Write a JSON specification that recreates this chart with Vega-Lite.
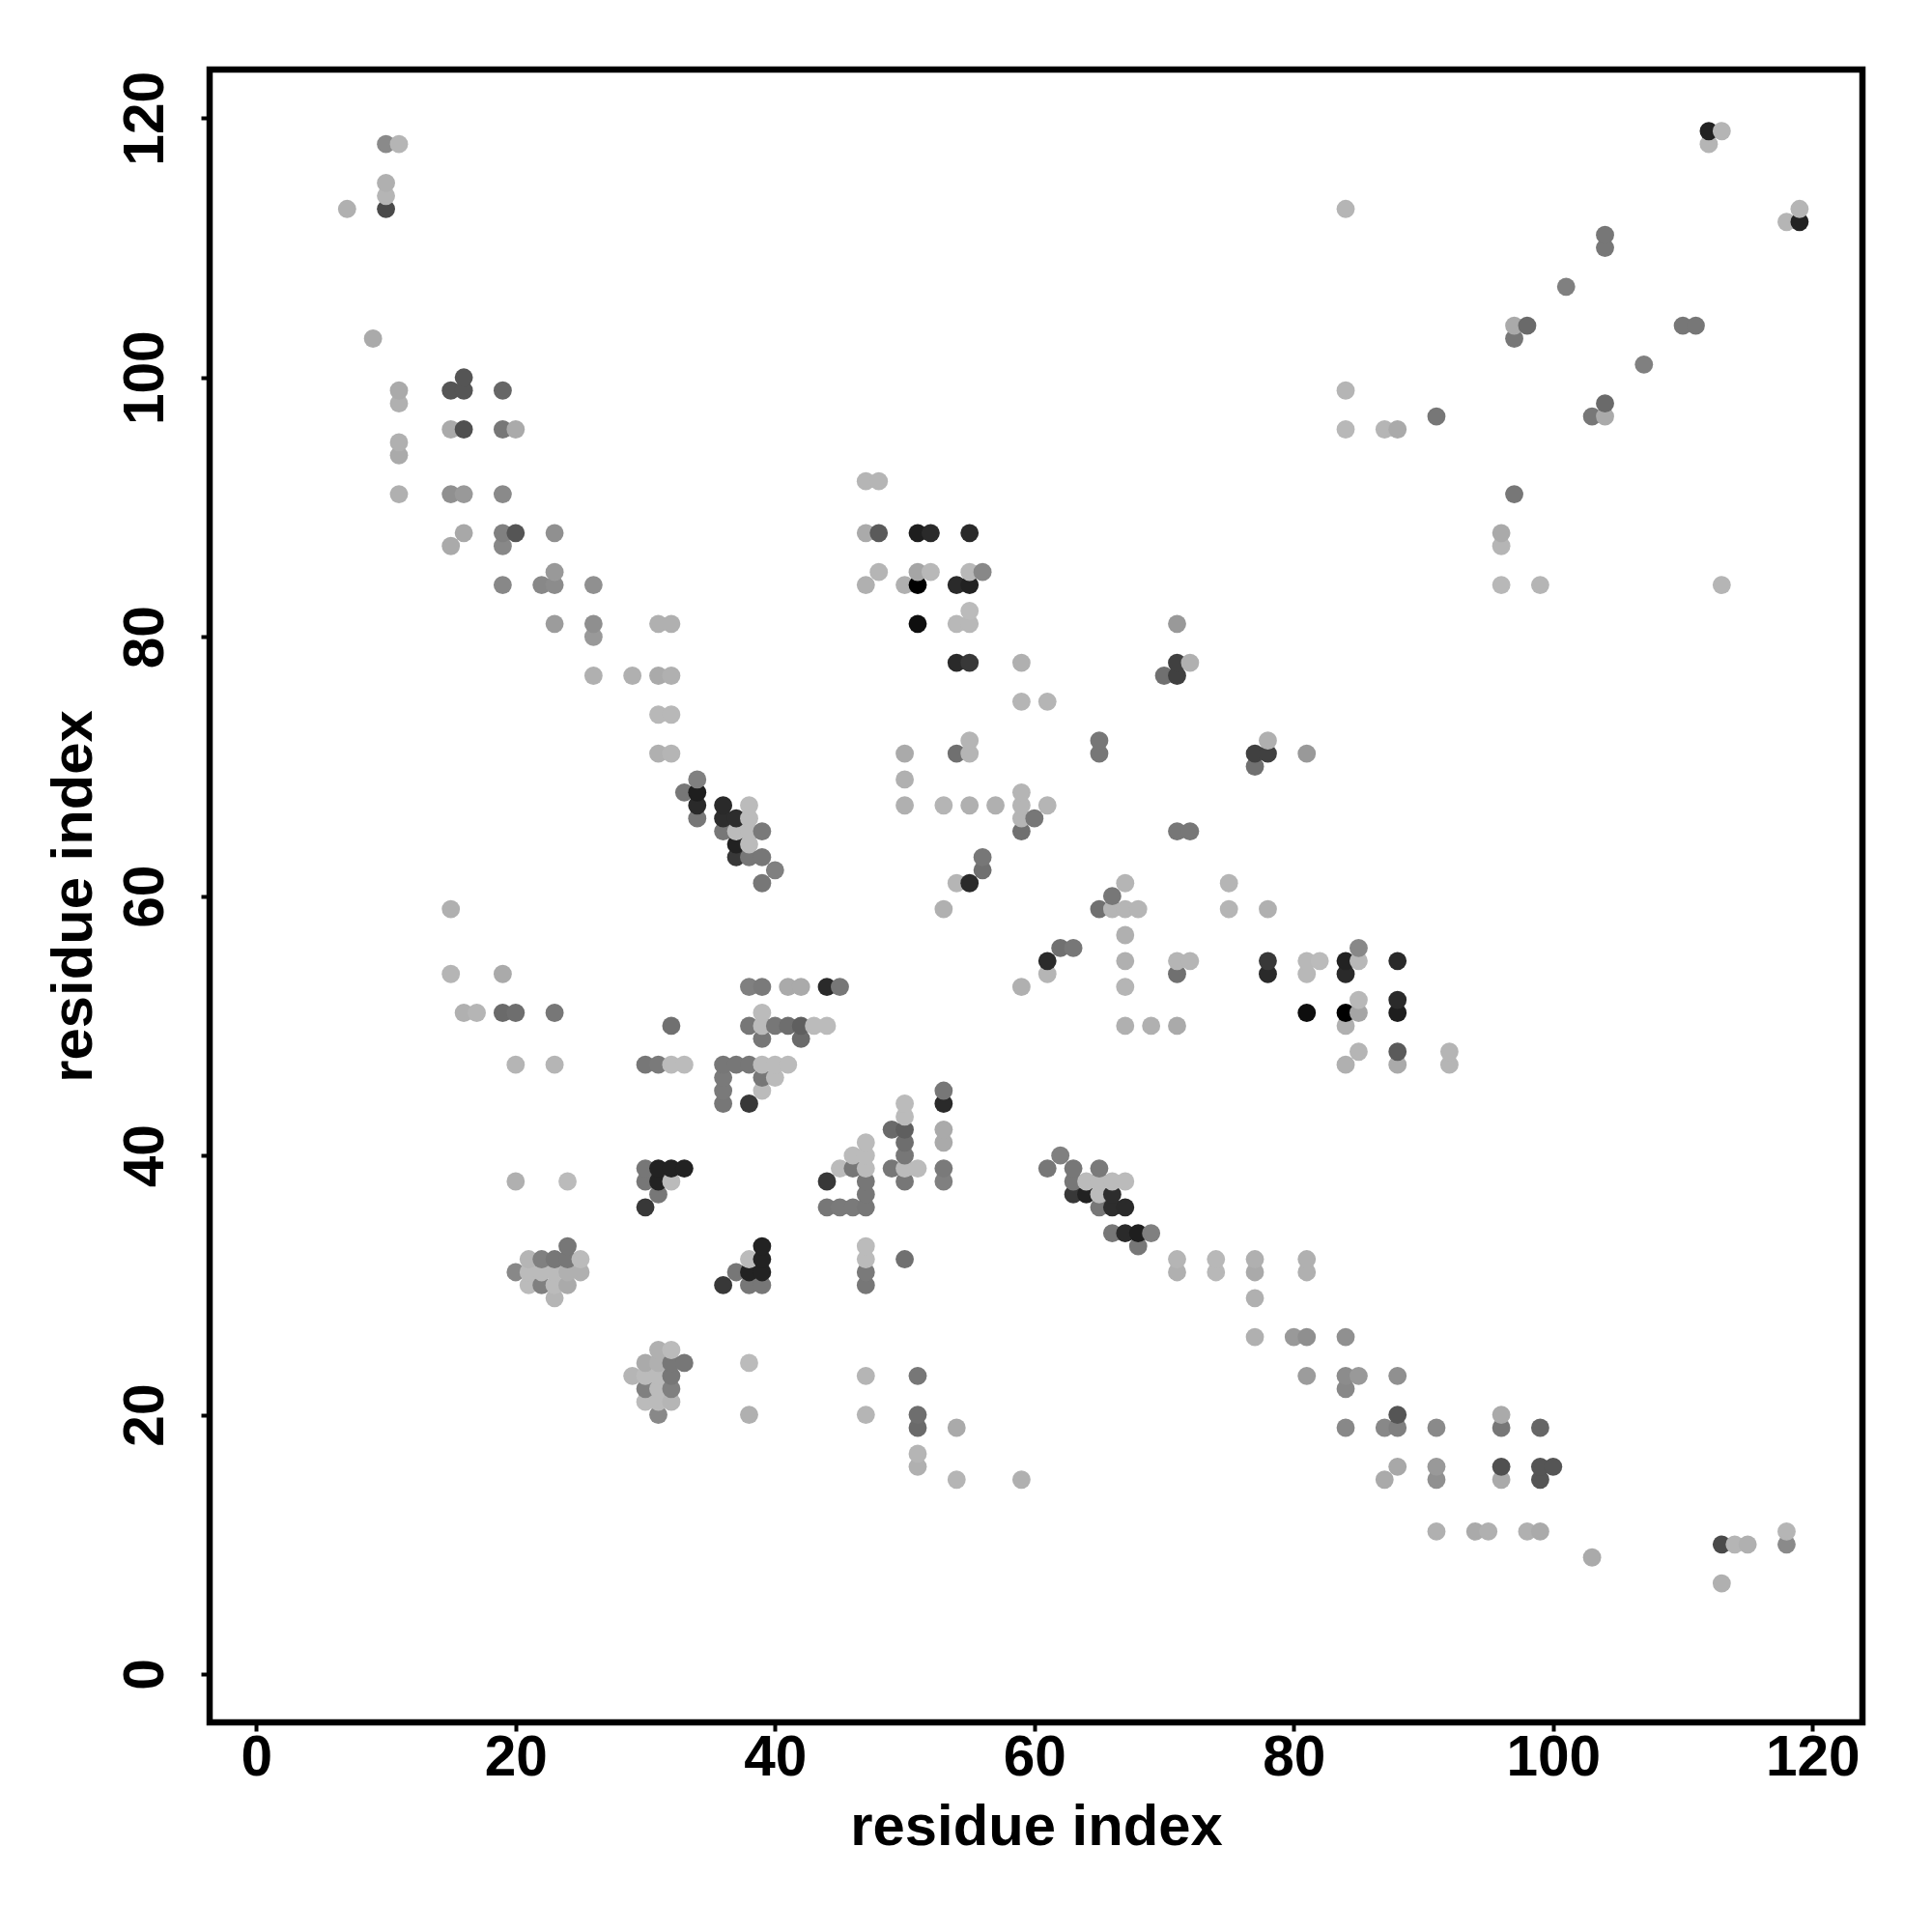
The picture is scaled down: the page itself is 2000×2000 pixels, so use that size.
{"$schema":"https://vega.github.io/schema/vega-lite/v6.json","width":1711,"height":1711,"autosize":"none","padding":{"left":217,"top":72,"right":72,"bottom":217},"background":"white","config":{"view":{"stroke":"black","strokeWidth":6.5,"fill":"white"}},
"data":{"values":[
{"x":7,"y":113,"g":176},{"x":9,"y":103,"g":170},{"x":10,"y":113,"g":74},{"x":10,"y":114,"g":181},{"x":10,"y":115,"g":176},{"x":10,"y":118,"g":138},
{"x":11,"y":91,"g":176},{"x":11,"y":94,"g":170},{"x":11,"y":95,"g":176},{"x":11,"y":98,"g":176},{"x":11,"y":99,"g":170},{"x":11,"y":118,"g":181},
{"x":15,"y":54,"g":181},{"x":15,"y":59,"g":176},{"x":15,"y":87,"g":170},{"x":15,"y":91,"g":144},{"x":15,"y":96,"g":170},{"x":15,"y":99,"g":85},
{"x":16,"y":51,"g":176},{"x":16,"y":88,"g":168},{"x":16,"y":91,"g":153},{"x":16,"y":96,"g":80},{"x":16,"y":99,"g":85},{"x":16,"y":100,"g":85},{"x":17,"y":51,"g":181},
{"x":19,"y":51,"g":106},{"x":19,"y":54,"g":170},{"x":19,"y":84,"g":136},{"x":19,"y":87,"g":136},{"x":19,"y":88,"g":128},{"x":19,"y":91,"g":138},{"x":19,"y":96,"g":119},{"x":19,"y":99,"g":102},
{"x":20,"y":31,"g":136},{"x":20,"y":38,"g":176},{"x":20,"y":47,"g":181},{"x":20,"y":51,"g":110},{"x":20,"y":88,"g":85},{"x":20,"y":96,"g":170},
{"x":21,"y":30,"g":187},{"x":21,"y":31,"g":187},{"x":21,"y":32,"g":181},{"x":22,"y":30,"g":128},{"x":22,"y":31,"g":187},{"x":22,"y":32,"g":128},{"x":22,"y":84,"g":136},
{"x":23,"y":29,"g":181},{"x":23,"y":30,"g":187},{"x":23,"y":31,"g":187},{"x":23,"y":32,"g":119},{"x":23,"y":47,"g":181},{"x":23,"y":51,"g":119},{"x":23,"y":81,"g":156},{"x":23,"y":84,"g":140},{"x":23,"y":85,"g":153},{"x":23,"y":88,"g":144},
{"x":24,"y":30,"g":170},{"x":24,"y":31,"g":176},{"x":24,"y":32,"g":119},{"x":24,"y":33,"g":119},{"x":24,"y":38,"g":187},{"x":25,"y":31,"g":176},{"x":25,"y":32,"g":187},
{"x":26,"y":77,"g":176},{"x":26,"y":80,"g":153},{"x":26,"y":81,"g":143},{"x":26,"y":84,"g":144},{"x":29,"y":77,"g":176},
{"x":30,"y":36,"g":56},{"x":30,"y":38,"g":119},{"x":30,"y":39,"g":119},{"x":30,"y":47,"g":119},
{"x":31,"y":37,"g":119},{"x":31,"y":38,"g":34},{"x":31,"y":39,"g":34},{"x":31,"y":47,"g":122},{"x":31,"y":71,"g":176},{"x":31,"y":74,"g":184},{"x":31,"y":77,"g":170},{"x":31,"y":81,"g":176},
{"x":32,"y":38,"g":187},{"x":32,"y":39,"g":34},{"x":32,"y":47,"g":187},{"x":32,"y":50,"g":112},{"x":32,"y":71,"g":181},{"x":32,"y":74,"g":184},{"x":32,"y":77,"g":176},{"x":32,"y":81,"g":176},
{"x":33,"y":39,"g":34},{"x":33,"y":47,"g":187},{"x":33,"y":68,"g":119},{"x":34,"y":66,"g":119},{"x":34,"y":67,"g":42},{"x":34,"y":68,"g":30},{"x":34,"y":69,"g":128},
{"x":36,"y":44,"g":119},{"x":36,"y":45,"g":122},{"x":36,"y":46,"g":122},{"x":36,"y":47,"g":119},{"x":36,"y":65,"g":119},{"x":36,"y":66,"g":45},{"x":36,"y":67,"g":42},
{"x":37,"y":47,"g":119},{"x":37,"y":63,"g":56},{"x":37,"y":64,"g":34},{"x":37,"y":65,"g":187},{"x":37,"y":66,"g":45},
{"x":38,"y":44,"g":56},{"x":38,"y":47,"g":119},{"x":38,"y":50,"g":119},{"x":38,"y":53,"g":128},{"x":38,"y":63,"g":119},{"x":38,"y":64,"g":187},{"x":38,"y":65,"g":187},{"x":38,"y":66,"g":187},{"x":38,"y":67,"g":187},
{"x":39,"y":45,"g":187},{"x":39,"y":46,"g":119},{"x":39,"y":47,"g":187},{"x":39,"y":49,"g":119},{"x":39,"y":50,"g":187},{"x":39,"y":51,"g":187},{"x":39,"y":53,"g":122},{"x":39,"y":61,"g":119},{"x":39,"y":63,"g":119},{"x":39,"y":65,"g":122},
{"x":40,"y":46,"g":187},{"x":40,"y":47,"g":187},{"x":40,"y":50,"g":119},{"x":40,"y":62,"g":128},{"x":41,"y":47,"g":187},{"x":41,"y":50,"g":110},{"x":41,"y":53,"g":170},
{"x":42,"y":49,"g":106},{"x":42,"y":50,"g":95},{"x":42,"y":53,"g":170},{"x":43,"y":50,"g":187},{"x":44,"y":50,"g":187},{"x":44,"y":53,"g":42},{"x":45,"y":53,"g":119},
{"x":47,"y":84,"g":176},{"x":47,"y":88,"g":170},{"x":47,"y":92,"g":181},{"x":48,"y":85,"g":181},{"x":48,"y":88,"g":90},{"x":48,"y":92,"g":181},
{"x":50,"y":67,"g":176},{"x":50,"y":69,"g":176},{"x":50,"y":71,"g":170},{"x":50,"y":84,"g":176},{"x":51,"y":81,"g":14},{"x":51,"y":84,"g":0},{"x":51,"y":85,"g":165},{"x":51,"y":88,"g":30},
{"x":52,"y":85,"g":184},{"x":52,"y":88,"g":42},{"x":53,"y":59,"g":176},{"x":53,"y":67,"g":181},
{"x":54,"y":61,"g":181},{"x":54,"y":71,"g":112},{"x":54,"y":78,"g":42},{"x":54,"y":81,"g":184},{"x":54,"y":84,"g":42},
{"x":55,"y":61,"g":42},{"x":55,"y":67,"g":176},{"x":55,"y":71,"g":181},{"x":55,"y":72,"g":181},{"x":55,"y":78,"g":56},{"x":55,"y":81,"g":184},{"x":55,"y":82,"g":187},{"x":55,"y":84,"g":34},{"x":55,"y":85,"g":184},{"x":55,"y":88,"g":42},
{"x":56,"y":62,"g":112},{"x":56,"y":63,"g":119},{"x":56,"y":85,"g":136},{"x":57,"y":67,"g":176},
{"x":59,"y":65,"g":112},{"x":59,"y":66,"g":181},{"x":59,"y":67,"g":181},{"x":59,"y":68,"g":181},{"x":59,"y":75,"g":181},{"x":59,"y":78,"g":176},{"x":60,"y":66,"g":119},{"x":61,"y":67,"g":181},{"x":61,"y":75,"g":181},
{"x":65,"y":71,"g":119},{"x":65,"y":72,"g":119},{"x":70,"y":77,"g":112},{"x":71,"y":77,"g":64},{"x":71,"y":78,"g":64},{"x":71,"y":81,"g":153},{"x":72,"y":78,"g":176},
{"x":84,"y":96,"g":184},{"x":84,"y":99,"g":181},{"x":84,"y":113,"g":181},{"x":87,"y":96,"g":181},{"x":88,"y":96,"g":170},{"x":91,"y":97,"g":119},{"x":97,"y":103,"g":119},{"x":97,"y":104,"g":170},{"x":98,"y":104,"g":106},{"x":101,"y":107,"g":128},{"x":104,"y":110,"g":119},{"x":104,"y":111,"g":119},{"x":112,"y":118,"g":181},{"x":112,"y":119,"g":34},{"x":113,"y":119,"g":181},

{"y":7,"x":113,"g":176},{"y":9,"x":103,"g":170},{"y":10,"x":113,"g":74},{"y":10,"x":114,"g":181},{"y":10,"x":115,"g":176},{"y":10,"x":118,"g":138},
{"y":11,"x":91,"g":176},{"y":11,"x":94,"g":170},{"y":11,"x":95,"g":176},{"y":11,"x":98,"g":176},{"y":11,"x":99,"g":170},{"y":11,"x":118,"g":181},
{"y":15,"x":54,"g":181},{"y":15,"x":59,"g":176},{"y":15,"x":87,"g":170},{"y":15,"x":91,"g":144},{"y":15,"x":96,"g":170},{"y":15,"x":99,"g":85},
{"y":16,"x":51,"g":176},{"y":16,"x":88,"g":168},{"y":16,"x":91,"g":153},{"y":16,"x":96,"g":80},{"y":16,"x":99,"g":85},{"y":16,"x":100,"g":85},{"y":17,"x":51,"g":181},
{"y":19,"x":51,"g":106},{"y":19,"x":54,"g":170},{"y":19,"x":84,"g":136},{"y":19,"x":87,"g":136},{"y":19,"x":88,"g":128},{"y":19,"x":91,"g":138},{"y":19,"x":96,"g":119},{"y":19,"x":99,"g":102},
{"y":20,"x":31,"g":136},{"y":20,"x":38,"g":176},{"y":20,"x":47,"g":181},{"y":20,"x":51,"g":110},{"y":20,"x":88,"g":85},{"y":20,"x":96,"g":170},
{"y":21,"x":30,"g":187},{"y":21,"x":31,"g":187},{"y":21,"x":32,"g":181},{"y":22,"x":30,"g":128},{"y":22,"x":31,"g":187},{"y":22,"x":32,"g":128},{"y":22,"x":84,"g":136},
{"y":23,"x":29,"g":181},{"y":23,"x":30,"g":187},{"y":23,"x":31,"g":187},{"y":23,"x":32,"g":119},{"y":23,"x":47,"g":181},{"y":23,"x":51,"g":119},{"y":23,"x":81,"g":156},{"y":23,"x":84,"g":140},{"y":23,"x":85,"g":153},{"y":23,"x":88,"g":144},
{"y":24,"x":30,"g":170},{"y":24,"x":31,"g":176},{"y":24,"x":32,"g":119},{"y":24,"x":33,"g":119},{"y":24,"x":38,"g":187},{"y":25,"x":31,"g":176},{"y":25,"x":32,"g":187},
{"y":26,"x":77,"g":176},{"y":26,"x":80,"g":153},{"y":26,"x":81,"g":143},{"y":26,"x":84,"g":144},{"y":29,"x":77,"g":176},
{"y":30,"x":36,"g":56},{"y":30,"x":38,"g":119},{"y":30,"x":39,"g":119},{"y":30,"x":47,"g":119},
{"y":31,"x":37,"g":119},{"y":31,"x":38,"g":34},{"y":31,"x":39,"g":34},{"y":31,"x":47,"g":122},{"y":31,"x":71,"g":176},{"y":31,"x":74,"g":184},{"y":31,"x":77,"g":170},{"y":31,"x":81,"g":176},
{"y":32,"x":38,"g":187},{"y":32,"x":39,"g":34},{"y":32,"x":47,"g":187},{"y":32,"x":50,"g":112},{"y":32,"x":71,"g":181},{"y":32,"x":74,"g":184},{"y":32,"x":77,"g":176},{"y":32,"x":81,"g":176},
{"y":33,"x":39,"g":34},{"y":33,"x":47,"g":187},{"y":33,"x":68,"g":119},{"y":34,"x":66,"g":119},{"y":34,"x":67,"g":42},{"y":34,"x":68,"g":30},{"y":34,"x":69,"g":128},
{"y":36,"x":44,"g":119},{"y":36,"x":45,"g":122},{"y":36,"x":46,"g":122},{"y":36,"x":47,"g":119},{"y":36,"x":65,"g":119},{"y":36,"x":66,"g":45},{"y":36,"x":67,"g":42},
{"y":37,"x":47,"g":119},{"y":37,"x":63,"g":56},{"y":37,"x":64,"g":34},{"y":37,"x":65,"g":187},{"y":37,"x":66,"g":45},
{"y":38,"x":44,"g":56},{"y":38,"x":47,"g":119},{"y":38,"x":50,"g":119},{"y":38,"x":53,"g":128},{"y":38,"x":63,"g":119},{"y":38,"x":64,"g":187},{"y":38,"x":65,"g":187},{"y":38,"x":66,"g":187},{"y":38,"x":67,"g":187},
{"y":39,"x":45,"g":187},{"y":39,"x":46,"g":119},{"y":39,"x":47,"g":187},{"y":39,"x":49,"g":119},{"y":39,"x":50,"g":187},{"y":39,"x":51,"g":187},{"y":39,"x":53,"g":122},{"y":39,"x":61,"g":119},{"y":39,"x":63,"g":119},{"y":39,"x":65,"g":122},
{"y":40,"x":46,"g":187},{"y":40,"x":47,"g":187},{"y":40,"x":50,"g":119},{"y":40,"x":62,"g":128},{"y":41,"x":47,"g":187},{"y":41,"x":50,"g":110},{"y":41,"x":53,"g":170},
{"y":42,"x":49,"g":106},{"y":42,"x":50,"g":95},{"y":42,"x":53,"g":170},{"y":43,"x":50,"g":187},{"y":44,"x":50,"g":187},{"y":44,"x":53,"g":42},{"y":45,"x":53,"g":119},
{"y":47,"x":84,"g":176},{"y":47,"x":88,"g":170},{"y":47,"x":92,"g":181},{"y":48,"x":85,"g":181},{"y":48,"x":88,"g":90},{"y":48,"x":92,"g":181},
{"y":50,"x":67,"g":176},{"y":50,"x":69,"g":176},{"y":50,"x":71,"g":170},{"y":50,"x":84,"g":176},{"y":51,"x":81,"g":14},{"y":51,"x":84,"g":0},{"y":51,"x":85,"g":165},{"y":51,"x":88,"g":30},
{"y":52,"x":85,"g":184},{"y":52,"x":88,"g":42},{"y":53,"x":59,"g":176},{"y":53,"x":67,"g":181},
{"y":54,"x":61,"g":181},{"y":54,"x":71,"g":112},{"y":54,"x":78,"g":42},{"y":54,"x":81,"g":184},{"y":54,"x":84,"g":42},
{"y":55,"x":61,"g":42},{"y":55,"x":67,"g":176},{"y":55,"x":71,"g":181},{"y":55,"x":72,"g":181},{"y":55,"x":78,"g":56},{"y":55,"x":81,"g":184},{"y":55,"x":82,"g":187},{"y":55,"x":84,"g":34},{"y":55,"x":85,"g":184},{"y":55,"x":88,"g":42},
{"y":56,"x":62,"g":112},{"y":56,"x":63,"g":119},{"y":56,"x":85,"g":136},{"y":57,"x":67,"g":176},
{"y":59,"x":65,"g":112},{"y":59,"x":66,"g":181},{"y":59,"x":67,"g":181},{"y":59,"x":68,"g":181},{"y":59,"x":75,"g":181},{"y":59,"x":78,"g":176},{"y":60,"x":66,"g":119},{"y":61,"x":67,"g":181},{"y":61,"x":75,"g":181},
{"y":65,"x":71,"g":119},{"y":65,"x":72,"g":119},{"y":70,"x":77,"g":112},{"y":71,"x":77,"g":64},{"y":71,"x":78,"g":64},{"y":71,"x":81,"g":153},{"y":72,"x":78,"g":176},
{"y":84,"x":96,"g":184},{"y":84,"x":99,"g":181},{"y":84,"x":113,"g":181},{"y":87,"x":96,"g":181},{"y":88,"x":96,"g":170},{"y":91,"x":97,"g":119},{"y":97,"x":103,"g":119},{"y":97,"x":104,"g":170},{"y":98,"x":104,"g":106},{"y":101,"x":107,"g":128},{"y":104,"x":110,"g":119},{"y":104,"x":111,"g":119},{"y":112,"x":118,"g":181},{"y":112,"x":119,"g":34},{"y":113,"x":119,"g":181}
]},
"mark":{"type":"point","filled":true,"shape":"circle","size":355,"opacity":1,"strokeWidth":0},
"encoding":{
"x":{"field":"x","type":"quantitative","scale":{"domain":[-3.6,123.85],"nice":false,"zero":false},
"axis":{"values":[0,20,40,60,80,100,120],"title":"residue index","grid":false,"domain":false,"tickSize":9,"tickWidth":4,"tickColor":"black","labelFont":"Liberation Sans","labelFontWeight":"bold","labelFontSize":58.5,"labelColor":"black","labelPadding":-1,"titleFont":"Liberation Sans","titleFontWeight":"bold","titleFontSize":59.8,"titleColor":"black","titlePadding":14}},
"y":{"field":"y","type":"quantitative","scale":{"domain":[-3.72,123.75],"nice":false,"zero":false},
"axis":{"values":[0,20,40,60,80,100,120],"title":"residue index","grid":false,"domain":false,"tickSize":9,"tickWidth":4,"tickColor":"black","labelFont":"Liberation Sans","labelFontWeight":"bold","labelFontSize":58.5,"labelColor":"black","labelAngle":-90,"labelAlign":"center","labelBaseline":"bottom","labelPadding":28,"titleFont":"Liberation Sans","titleFontWeight":"bold","titleFontSize":59.8,"titleColor":"black","titlePadding":14}},
"color":{"field":"g","type":"quantitative","scale":{"domain":[0,255],"range":["#000000","#ffffff"],"interpolate":"rgb"},"legend":null},
"order":[{"field":"x","type":"quantitative"},{"field":"y","type":"quantitative"}]
}}
